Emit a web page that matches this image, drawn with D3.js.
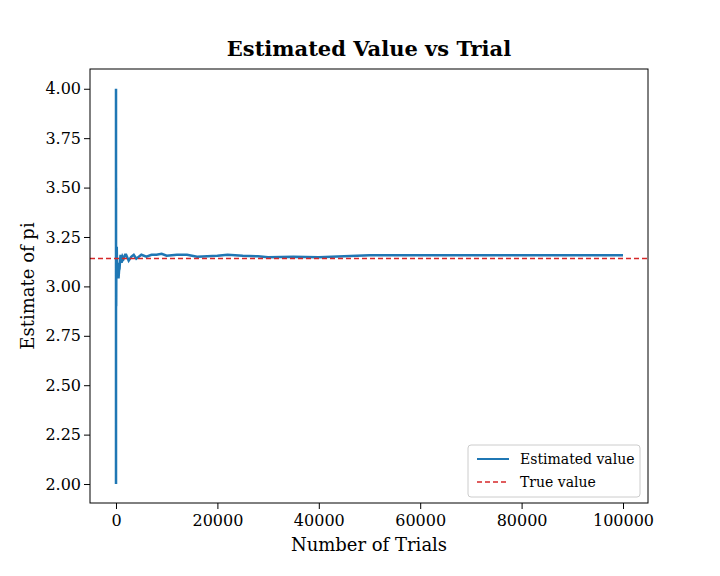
<!DOCTYPE html><html><head><meta charset="utf-8"><script src="https://cdn.jsdelivr.net/npm/d3@7"></script>
<style>body{margin:0;background:#fff}text{font-family:"DejaVu Serif","Liberation Serif",serif}</style></head><body><svg id="c" width="720" height="576"></svg>
<script>
const trials=[1,2,3,4,5,6,8,10,12,15,20,25,30,40,50,60,80,100,130,150,200,250,300,400,500,600,700,800,900,1100,1300,1500,1800,2000,2500,3000,3500,4000,5000,6000,7000,8000,9000,10000,12000,14000,16000,18000,20000,22000,25000,28000,30000,35000,40000,45000,50000,55000,60000,70000,80000,90000,100000];
const estimates=[4.0,2.0,2.67,3.0,3.2,3.33,3.5,3.2,3.0,2.93,3.0,3.04,3.07,2.9,2.96,3.07,3.1,3.04,3.17,3.2,3.1,3.06,3.05,3.12,3.04,3.08,3.09,3.13,3.16,3.12,3.15,3.14,3.16,3.16,3.13,3.15,3.16,3.14,3.16,3.15,3.16,3.16,3.165,3.155,3.16,3.16,3.15,3.152,3.155,3.16,3.155,3.152,3.148,3.15,3.148,3.152,3.158,3.157,3.157,3.158,3.158,3.157,3.157];
const trueValue=3.14159;
const yTicks=[2.00,2.25,2.50,2.75,3.00,3.25,3.50,3.75,4.00];
const xTicks=[0,20000,40000,60000,80000,100000];
const L=90,R=648,T=69,B=503;
const svg=d3.select("#c");
const x=d3.scaleLinear().domain([-5128,104930]).range([L,R]);
const y=d3.scaleLinear().domain([1.904,4.1]).range([B,T]);
svg.append("g").attr("transform",`translate(0,${B})`).call(d3.axisBottom(x).tickValues(xTicks).tickFormat(d3.format("d")).tickSizeOuter(0)).call(g=>{g.select(".domain").remove();g.selectAll("text").attr("font-size",16).attr("dy","0.9em");});
svg.append("g").attr("transform",`translate(${L},0)`).call(d3.axisLeft(y).tickValues(yTicks).tickFormat(d3.format(".2f")).tickSizeOuter(0)).call(g=>{g.select(".domain").remove();g.selectAll("text").attr("font-size",16);});
svg.selectAll(".tick line").attr("stroke","#000");
svg.selectAll(".tick text").attr("fill","#000");
svg.append("path").datum(trials.map((t,i)=>[t,estimates[i]])).attr("fill","none").attr("stroke","#1f77b4").attr("stroke-width",2.5)
 .attr("d",d3.line().x(d=>x(d[0])).y(d=>y(d[1])));
svg.append("line").attr("x1",L).attr("x2",R).attr("y1",y(trueValue)).attr("y2",y(trueValue)).attr("stroke","#d62728").attr("stroke-width",1.5).attr("stroke-dasharray","5,3");
svg.append("rect").attr("x",L).attr("y",T).attr("width",R-L).attr("height",B-T).attr("fill","none").attr("stroke","#000");
svg.append("text").attr("x",(L+R)/2).attr("y",56).attr("text-anchor","middle").attr("font-size",21).attr("font-weight","bold").text("Estimated Value vs Trial");
svg.append("text").attr("x",(L+R)/2).attr("y",551).attr("text-anchor","middle").attr("font-size",18).text("Number of Trials");
svg.append("text").attr("transform",`translate(34,${(T+B)/2}) rotate(-90)`).attr("text-anchor","middle").attr("font-size",18).text("Estimate of pi");
const lg=svg.append("g");
lg.append("rect").attr("x",468).attr("y",445).attr("width",172).attr("height",52).attr("rx",3).attr("fill","#fff").attr("stroke","#ccc");
lg.append("line").attr("x1",477).attr("x2",509).attr("y1",459).attr("y2",459).attr("stroke","#1f77b4").attr("stroke-width",2);
lg.append("line").attr("x1",477).attr("x2",509).attr("y1",482).attr("y2",482).attr("stroke","#d62728").attr("stroke-width",1.5).attr("stroke-dasharray","5,3");
lg.append("text").attr("x",520).attr("y",464).attr("font-size",14).text("Estimated value");
lg.append("text").attr("x",520).attr("y",487).attr("font-size",14).text("True value");
</script></body></html>
